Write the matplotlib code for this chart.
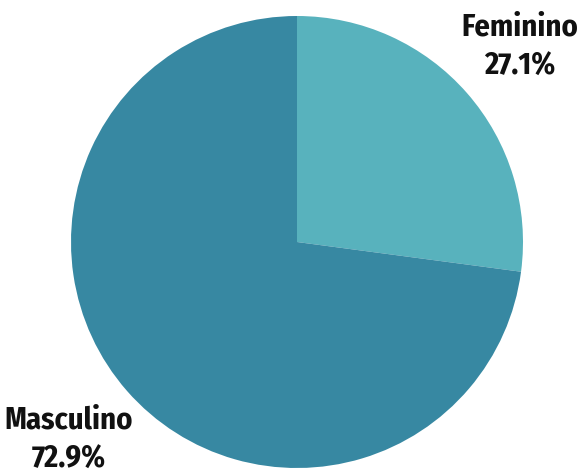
import matplotlib
matplotlib.use("Agg")
import matplotlib.pyplot as plt

categories = ["Feminino", "Masculino"]
values = [27.1, 72.9]
colors = ["#58b2bd", "#3788a2"]

fig = plt.figure(figsize=(5.79, 4.69), dpi=100)
ax = fig.add_axes([0, 0, 1, 1])

ax.pie(values, colors=colors, startangle=90, counterclock=False,
       center=(297, 227), radius=226, frame=True,
       wedgeprops=dict(linewidth=0))
ax.set_xlim(0, 579)
ax.set_ylim(0, 469)
ax.set_aspect("equal")
ax.axis("off")

label_pos = [(520, 422), (69, 29)]
for cat, v, (x, y) in zip(categories, values, label_pos):
    ax.text(x, y, f"{cat}\n{v:.1f}%", ha="center", va="center",
            fontsize=22, fontweight=700,
            family=["Fira Sans Condensed", "DejaVu Sans"],
            linespacing=1.38, color="#111111")

fig.savefig("out.png", dpi=100)
